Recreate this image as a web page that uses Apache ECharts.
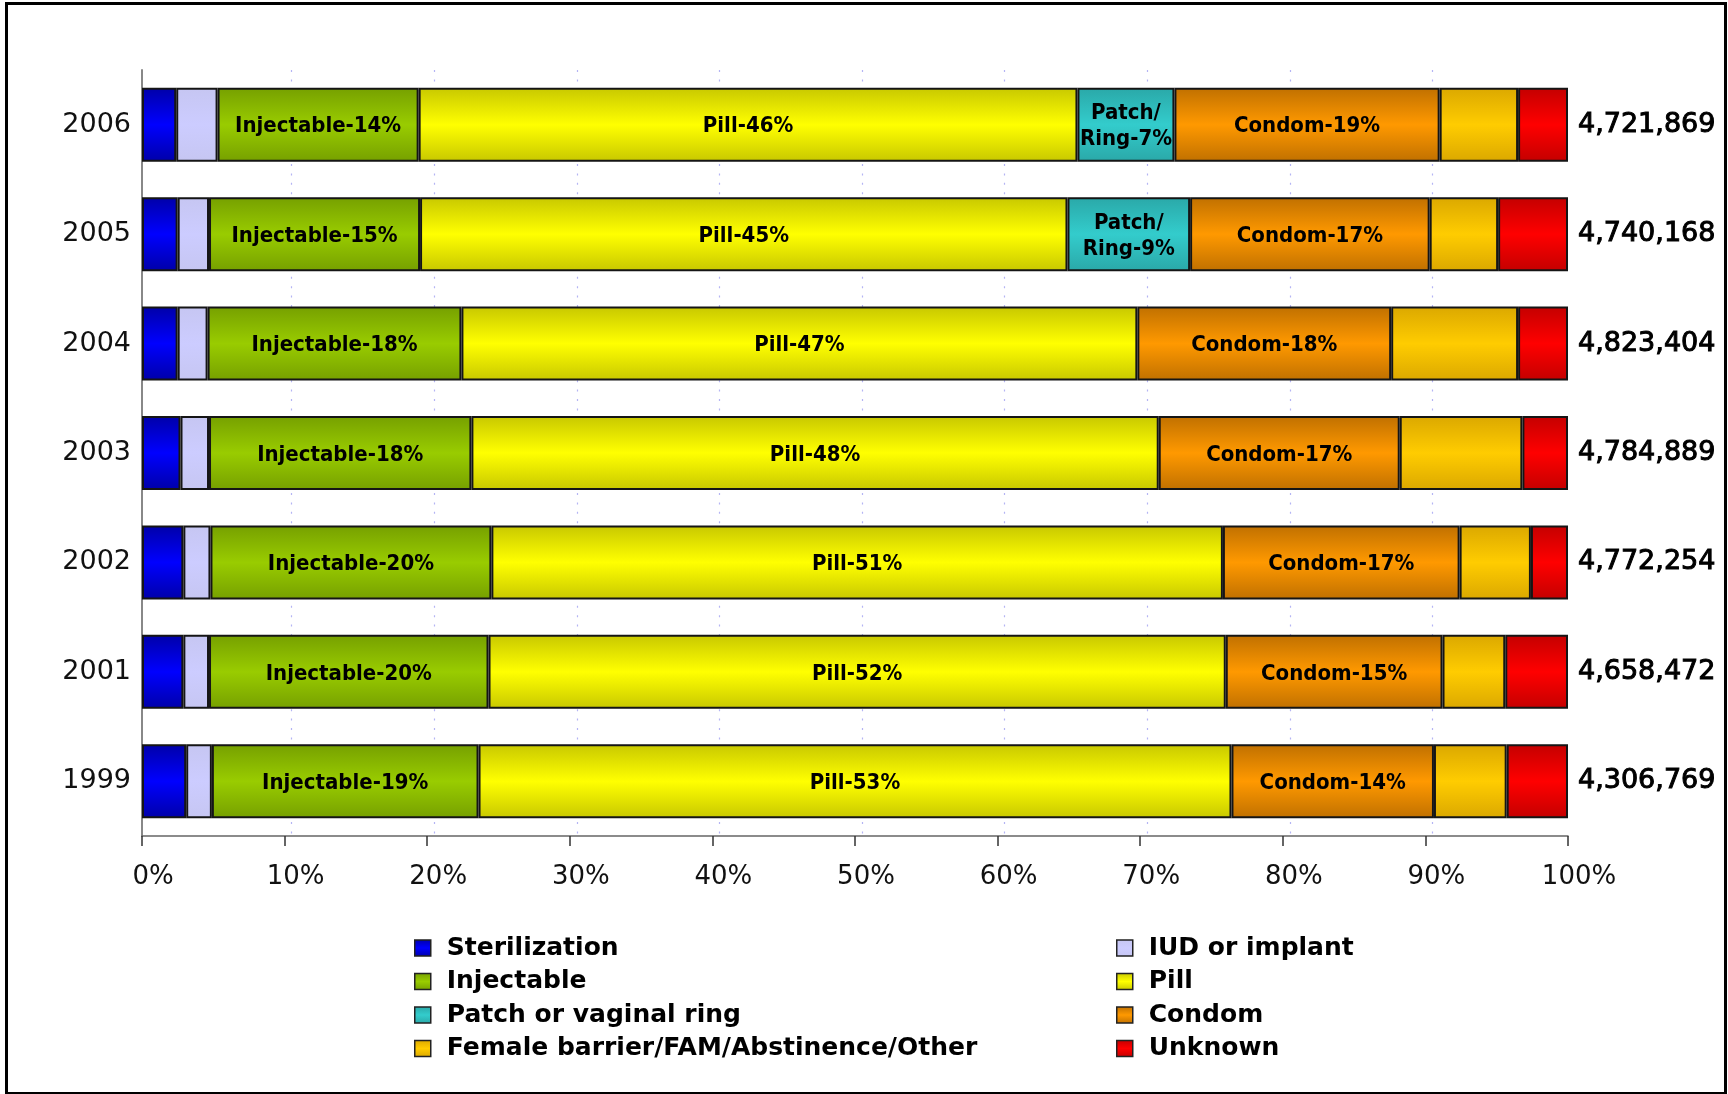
<!DOCTYPE html>
<html>
<head>
<meta charset="utf-8">
<title>Contraceptive method mix by year</title>
<script src="https://cdn.jsdelivr.net/npm/echarts/dist/echarts.min.js"></script>
<style>
  html, body { margin: 0; padding: 0; background: #fff; }
  #chart { position: absolute; left: 0; top: 0; width: 1728px; height: 1094px; }
  #frame { position: absolute; left: 5px; top: 2px; width: 1716px; height: 1087px;
           border: 3px solid #000; pointer-events: none; }
</style>
</head>
<body>
<div id="chart"></div>
<div id="frame"></div>
<script>
// Survey years (bottom to top) and total clients per year
const years = ['1999', '2001', '2002', '2003', '2004', '2005', '2006'];
const totals = [4306769, 4658472, 4772254, 4784889, 4823404, 4740168, 4721869];

// Share of clients by primary method, percent
const sterilization = [3.1, 2.9, 2.9, 2.7, 2.5, 2.5, 2.4];
const iud           = [1.8, 1.8, 1.9, 2.0, 2.1, 2.2, 2.9];
const injectable    = [18.7, 19.6, 19.7, 18.4, 17.8, 14.8, 14.1];
const pill          = [52.8, 51.7, 51.3, 48.2, 47.4, 45.4, 46.2];
const patch         = [null, null, null, null, null, 8.6, 6.8];
const condom        = [14.2, 15.2, 16.6, 16.9, 17.8, 16.8, 18.6];
const other         = [5.1, 4.4, 5.0, 8.6, 8.9, 4.8, 5.5];
const unknown       = [4.3, 4.4, 2.6, 3.2, 3.5, 4.9, 3.5];

// Percent axis ticks
const xTicks = [0, 10, 20, 30, 40, 50, 60, 70, 80, 90, 100];

const chart = echarts.init(document.getElementById('chart'));

// Glossy bar fill: darker at the edges, bright in the middle
function gloss(edge, mid) {
  return new echarts.graphic.LinearGradient(0, 0, 0, 1, [
    { offset: 0, color: edge },
    { offset: 0.5, color: mid },
    { offset: 1, color: edge }
  ]);
}

const FONT = "'DejaVu Sans', sans-serif";
const LABEL_FONT = "'DejaVu Sans Condensed', 'DejaVu Sans', sans-serif";

function segment(name, data, edge, mid, labelFn) {
  const s = {
    name: name,
    type: 'bar',
    stack: 'mix',
    data: data,
    barWidth: 74,
    xAxisIndex: 0,
    yAxisIndex: 0,
    itemStyle: { color: gloss(edge, mid), borderColor: '#151515', borderWidth: 2 },
    label: { show: false }
  };
  if (labelFn) {
    s.label = {
      show: true,
      position: 'inside',
      offset: [0, 2],
      color: '#000',
      fontFamily: LABEL_FONT,
      fontWeight: 'bold',
      fontSize: 22,
      lineHeight: 26,
      formatter: p => (p.value == null ? '' : labelFn(Math.round(p.value)))
    };
  }
  return s;
}

const series = [
  segment('Sterilization', sterilization, '#0000a8', '#0000ff'),
  segment('IUD or implant', iud, '#c6c6f2', '#ccccff'),
  segment('Injectable', injectable, '#76a000', '#99cc00', v => 'Injectable-' + v + '%'),
  segment('Pill', pill, '#c8c800', '#ffff00', v => 'Pill-' + v + '%'),
  segment('Patch or vaginal ring', patch, '#2aa8a8', '#33cccc', v => 'Patch/\nRing-' + v + '%'),
  segment('Condom', condom, '#c07000', '#ff9900', v => 'Condom-' + v + '%'),
  segment('Female barrier/FAM/Abstinence/Other', other, '#dba800', '#ffcc00'),
  segment('Unknown', unknown, '#c40000', '#ff0000')
];

const legendCommon = {
  orient: 'vertical',
  top: 935,
  padding: 0,
  itemWidth: 16,
  itemHeight: 16,
  itemGap: 7.5,
  icon: 'rect',
  itemStyle: { borderColor: '#222', borderWidth: 1.5 },
  textStyle: {
    fontFamily: FONT, fontWeight: 'bold', fontSize: 25, lineHeight: 26,
    color: '#000', padding: [0, 0, 0, 11]
  }
};

chart.setOption({
  animation: false,
  backgroundColor: '#fff',
  grid: [
    { left: 142, right: 160, top: 70, bottom: 258, outerBoundsMode: 'none' },
    // same span shifted a few pixels right; carries only the dotted guide lines
    { left: 149, right: 153, top: 70, bottom: 258, outerBoundsMode: 'none' }
  ],
  legend: [
    Object.assign({}, legendCommon, {
      left: 414,
      data: ['Sterilization', 'Injectable', 'Patch or vaginal ring', 'Female barrier/FAM/Abstinence/Other']
    }),
    Object.assign({}, legendCommon, {
      left: 1116,
      data: ['IUD or implant', 'Pill', 'Condom', 'Unknown']
    })
  ],
  xAxis: [
    {
      type: 'value', gridIndex: 0, min: xTicks[0], max: xTicks[xTicks.length - 1], interval: 10,
      axisLine: { show: true, lineStyle: { color: '#666', width: 1.5 } },
      axisTick: { show: true, length: 10, lineStyle: { color: '#333', width: 1.5 } },
      splitLine: { show: false },
      axisLabel: {
        fontFamily: FONT, fontSize: 26, color: '#111', margin: 28,
        padding: [0, 0, 0, 22],
        formatter: v => v + '%'
      }
    },
    {
      type: 'value', gridIndex: 1, min: 0, max: 100, interval: 10,
      axisLine: { show: false }, axisTick: { show: false }, axisLabel: { show: false },
      splitLine: {
        show: true, showMinLine: false, showMaxLine: false,
        lineStyle: { color: '#b4b4f4', width: 1.2, type: [2, 7.4] }
      }
    }
  ],
  yAxis: [
    {
      type: 'category', gridIndex: 0, data: years, position: 'left',
      axisLine: { show: true, lineStyle: { color: '#888', width: 2 } },
      axisTick: { show: false },
      axisLabel: { fontFamily: FONT, fontSize: 27, color: '#111', margin: 11, padding: [5, 0, 0, 0] }
    },
    {
      type: 'category', gridIndex: 0, data: totals.map(t => t.toLocaleString('en-US')), position: 'right',
      axisLine: { show: false }, axisTick: { show: false },
      axisLabel: {
        fontFamily: FONT, fontSize: 27, color: '#000', margin: 10, padding: [6, 0, 0, 0],
        textBorderColor: '#000', textBorderWidth: 1
      }
    },
    { type: 'category', gridIndex: 1, data: years, show: false }
  ],
  series: series
});
</script>
</body>
</html>
